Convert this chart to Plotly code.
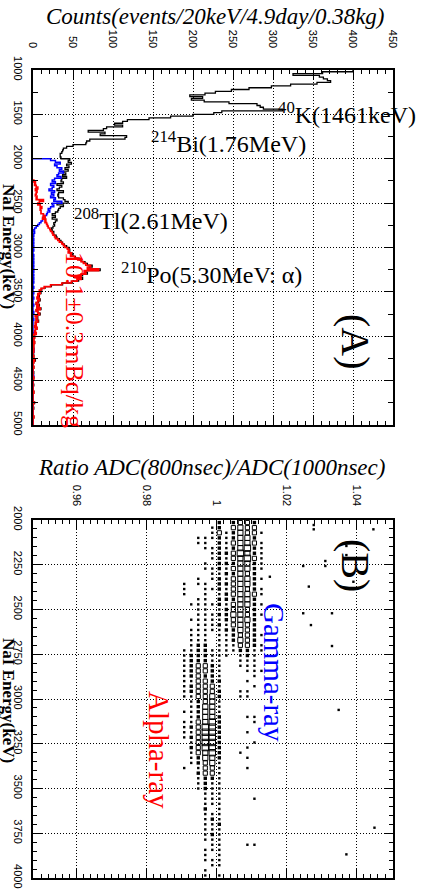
import plotly.graph_objects as go

W, H = 423, 892

# ---------------- data : panel (A) energy spectra ----------------
BIN_KEV = 20
total_start = 1000
total_counts = [
    400, 362, 325, 358, 363, 368, 372, 355, 322, 298, 270, 248, 228, 215, 196, 212, 198, 214, 245, 280,
    284, 288, 312, 236, 226, 200, 172, 145, 118, 112, 102, 112, 92, 88, 69, 90, 84, 117, 115, 71,
    67, 66, 50, 42, 38, 37, 36, 34, 34, 35,
    46, 44, 48, 42, 45, 40, 44, 38, 41, 37, 42, 36, 35, 38, 30, 36, 33, 30, 38, 32,
    31, 32, 38, 40, 44, 30, 38, 34, 32, 31, 28, 24, 28, 24, 30, 28, 26, 27, 25, 23,
    24, 26, 26, 29,
    30, 33, 35, 37, 39, 42, 45, 46, 46, 49, 50, 53, 58, 61, 65, 68, 74, 70, 84, 66,
    68, 62, 54, 62, 57, 49, 37, 23, 15, 11, 9, 10, 7, 8, 6, 9, 7, 4, 8, 5,
    10, 4, 6, 9, 3, 6, 4, 7, 3, 4, 3, 5, 3, 2, 4, 2, 2, 1, 1, 2,
    1, 0, 1, 1, 1, 0, 1, 1, 0, 3, 1, 0, 0, 1, 0, 0, 1, 0, 0, 1,
    0, 0, 0, 1, 0, 0, 0, 1, 0, 0, 0, 0, 0, 2, 0, 0, 1, 0, 0, 0,
    0, 1, 0, 0, 0, 0,
]
gamma_start = 2000
gamma_counts = [
    22, 28, 34, 27, 30, 36, 33, 38, 32, 30, 35, 27, 24, 28, 22, 26, 24, 20, 27, 23,
    26, 22, 28, 26, 36, 24, 26, 22, 19, 21, 18, 17, 13, 15, 12, 10, 8, 6, 4, 2,
    1, 2, 1, 1, 0, 1, 0, 1, 0, 1, 0, 1, 0, 0, 1, 0, 1, 0, 1, 0,
    1, 0, 1, 1, 0, 1, 0, 1, 0, 1, 0, 0, 1, 0, 0, 1, 0, 0, 1, 0,
    0, 0, 1, 0, 0, 0, 1, 0, 0, 0, 1, 0, 0, 0, 0, 0, 0, 0, 1, 0,
    0, 0, 0, 0, 0, 0, 0, 1, 1, 0, 0, 0, 0, 0, 0, 0, 0, 0, 0, 0,
    0, 0, 1, 0, 0, 0, 0, 0, 0, 0, 0, 0, 0, 0, 0, 0, 0, 0, 0, 0,
    0, 0, 0, 0, 0, 0, 0, 0, 0, 0,
]
alpha_start = 2240
alpha_counts = [
    1, 3, 2, 4, 6, 3, 5, 4, 3, 5, 4, 13, 8, 6, 9, 11, 9, 10, 10, 13,
    15, 12, 16, 15, 17, 18, 19, 21, 22, 24, 25, 27, 28, 31, 33, 36, 38, 40, 43, 45,
    44, 48, 47, 52, 56, 60, 63, 66, 72, 68, 82, 64, 66, 60, 52, 60, 55, 48, 36, 22,
    14, 10, 8, 9, 6, 7, 5, 8, 6, 4, 7, 5, 9, 4, 6, 8, 3, 5, 4, 6,
    3, 4, 2, 5, 3, 2, 4, 1, 2, 1, 0, 2, 1, 0, 1, 0, 1, 0, 0, 1,
    0, 2, 1, 0, 0, 1, 0, 0, 0, 0, 0, 1, 0, 0, 0, 0, 0, 0, 0, 1,
    0, 0, 0, 0, 0, 1, 0, 0, 0, 0, 0, 0, 0, 1, 0, 0, 0, 0,
]

# ---------------- data : panel (B) pulse-shape box histogram ----------------
ratio_bin_centers = [0.9908, 0.9928, 0.9948, 0.9968, 0.9988, 1.0008,
                     1.0028, 1.0048, 1.0068, 1.0088, 1.0108, 1.0128]
psd_energy_min, psd_energy_max, psd_energy_nbins = 2000, 4000, 70
# box-size level per cell (row = energy bin from 2000 keV, column = ratio bin)
psd_levels = [
    "000002023320", "000012034330", "000013124331", "001112124420", "001102134431",
    "000112124521", "000012235421", "000012134531", "000102224421", "000112134421",
    "000011224320", "001012134421", "101102234420", "100112134321", "100101234431",
    "001102224420", "011112134421", "001101234320", "001112244321", "011111234420",
    "001112134320", "011111224320", "011101123321", "011101124320", "012201113321",
    "112211112211", "122211101210", "122211001110", "123321001110", "123321000111",
    "123221000010", "113322000100", "123331000010", "123332001100", "113342001100",
    "012341000000", "012441000000", "112441000000", "012442000110", "113452000010",
    "123552000000", "113552000100", "123552000000", "013552000010", "023552000100",
    "013452001000", "012442000100", "012341000000", "101331000100", "002331000000",
    "001221000000", "001211000000", "001211000000", "000111000000", "000111000010",
    "000111000000", "000201000000", "000111000000", "000121000000", "000112000000",
    "000111000000", "000121000000", "000111000000", "000011000110", "000111000000",
    "000101000000", "000111000000", "000011000000", "000100000000", "000101000000",
]
outlier_ratio = [1.0277, 1.0277, 1.0447, 1.0370, 1.0370, 1.0310, 1.0247, 1.0310, 1.0390,
                 1.0263, 1.0152, 1.0247, 1.0329, 1.0269, 1.0329, 1.0348, 1.0450, 1.0370]
outlier_energy = [2028, 2052, 2052, 2145, 2196, 2229, 2257, 2257, 2345,
                  2372, 2317, 2521, 2521, 2587, 2704, 3061, 3719, 3868]

# ---------------- helpers ----------------
def px(x):
    return x / W


def py(y):
    return 1 - y / H


def step(start, counts, from_base):
    edges = [start + BIN_KEV * i for i in range(len(counts) + 1)]
    xs = list(counts) + [counts[-1]]
    ys = edges[:-1] + [edges[-1]]
    if from_base:
        xs = [0] + xs
        ys = [edges[0]] + ys
    return xs, ys


fig = go.Figure()

for start, counts, color, width, base in [
    (total_start, total_counts, "black", 1.3, False),
    (gamma_start, gamma_counts, "#0000ff", 1.5, True),
    (alpha_start, alpha_counts, "#ff0000", 1.7, True),
]:
    xs, ys = step(start, counts, base)
    fig.add_trace(go.Scatter(x=xs, y=ys, mode="lines", line=dict(color=color, width=width, shape="vh"),
                             xaxis="x", yaxis="y", showlegend=False, hoverinfo="skip"))

# panel B boxes
ebw = (psd_energy_max - psd_energy_min) / psd_energy_nbins
level_style = {
    1: ("square", 2.4),
    2: ("square", 3.4),
    3: ("square-open", 4.2),
    4: ("square-open", 5.2),
    5: ("square-open", 6.4),
}
for lvl, (sym, size) in level_style.items():
    bx, by = [], []
    for i, row in enumerate(psd_levels):
        for k, ch in enumerate(row):
            if int(ch) == lvl:
                bx.append(ratio_bin_centers[k])
                by.append(psd_energy_min + (i + 0.5) * ebw)
    if lvl == 1:
        bx += outlier_ratio
        by += outlier_energy
    fig.add_trace(go.Scatter(x=bx, y=by, mode="markers", xaxis="x2", yaxis="y2",
                             marker=dict(symbol=sym, size=size, color="black",
                                         line=dict(color="black", width=1 if "open" in sym else 0)),
                             showlegend=False, hoverinfo="skip"))

tickfont = dict(family="Liberation Sans, Arial, sans-serif", size=11, color="black")
common = dict(showline=True, linecolor="black", linewidth=2, mirror="allticks", ticks="inside",
              tickcolor="black", tickwidth=1, showgrid=True, gridcolor="black", gridwidth=1,
              griddash="1px,2px", zeroline=False, tickfont=tickfont, tickangle=90, automargin=False)

fig.update_layout(
    width=W, height=H, autosize=False, margin=dict(l=0, r=0, t=0, b=0, autoexpand=False),
    paper_bgcolor="white", plot_bgcolor="white",
    xaxis=dict(domain=[px(33), px(393)], range=[0, 450], side="top", anchor="y",
               tickmode="linear", tick0=0, dtick=50, ticklen=9, ticklabelstandoff=16,
               minor=dict(dtick=10, ticklen=4, ticks="inside", tickcolor="black", showgrid=False),
               **common),
    yaxis=dict(domain=[py(425), py(70)], range=[5000, 1000], anchor="x",
               tickmode="linear", tick0=1000, dtick=500, ticklen=9, ticklabelstandoff=4,
               minor=dict(dtick=250, ticklen=5, ticks="inside", tickcolor="black", showgrid=False),
               **common),
    xaxis2=dict(domain=[px(33), px(393)], range=[0.94772, 1.05028], side="top", anchor="y2",
                tickmode="array", tickvals=[0.96, 0.98, 1.0, 1.02, 1.04],
                ticktext=["0.96", "0.98", "1", "1.02", "1.04"], ticklen=9, ticklabelstandoff=8,
                minor=dict(dtick=0.002, tick0=0.96, ticklen=4, ticks="inside", tickcolor="black", showgrid=False),
                **common),
    yaxis2=dict(domain=[py(878), py(520)], range=[4000, 2000], anchor="x2",
                tickmode="linear", tick0=2000, dtick=250, ticklen=9, ticklabelstandoff=4,
                minor=dict(dtick=50, ticklen=4, ticks="inside", tickcolor="black", showgrid=False),
                **common),
)

serif = "Liberation Serif, Times New Roman, serif"
ann = []


def add(text, x, y, size, color="black", angle=0, xanchor="center", yanchor="middle"):
    ann.append(dict(text=text, x=px(x), y=py(y), xref="paper", yref="paper", showarrow=False,
                    font=dict(family=serif, size=size, color=color), textangle=angle,
                    xanchor=xanchor, yanchor=yanchor))


add("<i>Counts(events/20keV/4.9day/0.38kg)</i>", 216, 16, 23)
add("<i>Ratio ADC(800nsec)/ADC(1000nsec)</i>", 212, 468, 23)
add("<b>NaI Energy(keV)</b>", 9, 246, 17, angle=90)
add("<b>NaI Energy(keV)</b>", 9, 700, 17, angle=90)
add("<sup>40</sup>K(1461keV)", 276, 113, 24, xanchor="left")
add("<sup>214</sup>Bi(1.76MeV)", 149, 142, 24, xanchor="left")
add("<sup>208</sup>Tl(2.61MeV)", 72, 219, 24, xanchor="left")
add("<sup>210</sup>Po(5.30MeV: α)", 119, 273, 24, xanchor="left")
add("(A)", 356, 342, 40, angle=90)
add("(B)", 356, 565, 40, angle=90)
add("10.1±0.3mBq/kg", 75, 340, 26, color="#ff0000", angle=90)
add("Gamma-ray", 274, 672, 29, color="#0000ff", angle=90)
add("Alpha-ray", 159, 750, 29, color="#ff0000", angle=90)

fig.update_layout(annotations=ann)
fig.write_html("out.html", config={"displayModeBar": False, "staticPlot": True},
               post_script="document.body.style.margin='0';document.body.style.overflow='hidden';")
